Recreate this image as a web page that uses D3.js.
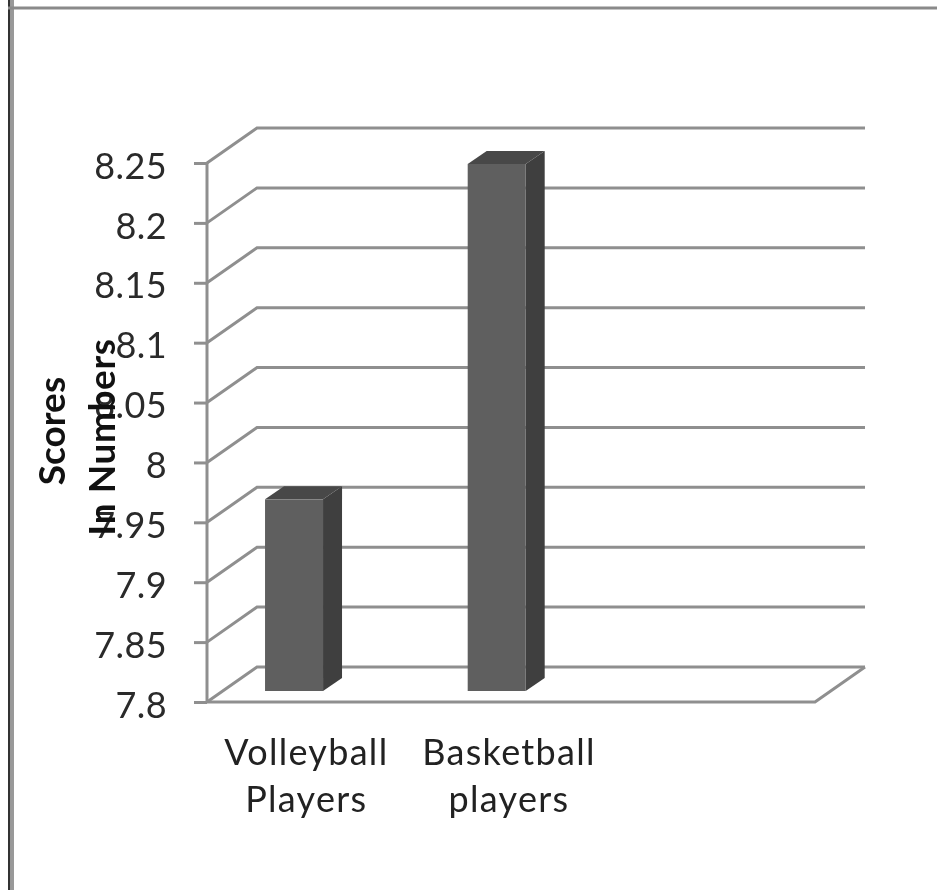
<!DOCTYPE html>
<html><head><meta charset="utf-8">
<script src="https://cdn.jsdelivr.net/npm/d3@7/dist/d3.min.js"></script>
<style>
html,body{margin:0;padding:0;background:#fff}
svg{display:block;filter:blur(0.6px)}
text{font-family:Lato,"Open Sans",sans-serif;fill:#222}
</style></head><body>
<script>
const categories = ["Volleyball Players", "Basketball players", ""];
const categoryLines = [["Volleyball", "Players"], ["Basketball", "players"], []];
const scores = [7.96, 8.24];
const tickValues = [7.8, 7.85, 7.9, 7.95, 8, 8.05, 8.1, 8.15, 8.2, 8.25];
const titleLines = ["Scores", "In Numbers"];

const W = 937, H = 890;
const grid = "#8f8f8f";
const svg = d3.select("body").append("svg").attr("width", W).attr("height", H);

// page frame
svg.append("rect").attr("x", 8).attr("y", 0).attr("width", 2.5).attr("height", H).attr("fill", "#333");
svg.append("rect").attr("x", 10.5).attr("y", 0).attr("width", 3.5).attr("height", H).attr("fill", "#999");
svg.append("rect").attr("x", 8).attr("y", 6.5).attr("width", W - 8).attr("height", 3).attr("fill", "#8a8a8a");

const y = d3.scaleLinear().domain([7.8, 8.25]).range([702, 163]);
const x = d3.scaleBand().domain(categories).range([207, 815]);
const depthX = 50, depthY = -35;

// walls: side and back gridlines
const line = d3.line();
svg.append("g").selectAll("path").data(tickValues).join("path")
  .attr("fill", "none").attr("stroke", grid).attr("stroke-width", 3)
  .attr("d", d => line([[207, y(d)], [207 + depthX, y(d) + depthY], [815 + depthX, y(d) + depthY]]));
// floor front
svg.append("path").attr("fill", "none").attr("stroke", grid).attr("stroke-width", 3)
  .attr("d", line([[207, y(7.8)], [815, y(7.8)], [815 + depthX, y(7.8) + depthY]]));

// y axis
const axis = d3.axisLeft(y).tickValues(tickValues).tickFormat(d => String(d)).tickSize(13).tickPadding(27);
const ag = svg.append("g").attr("transform", "translate(207,0)").call(axis);
ag.select(".domain").attr("stroke", grid).attr("stroke-width", 3).attr("d", line([[0, y(8.25)], [0, y(7.8)]]));
ag.selectAll(".tick line").attr("stroke", grid).attr("stroke-width", 3);
ag.selectAll(".tick text").attr("font-size", 36).attr("letter-spacing", 0.4).style("fill", "#2a2a2a").attr("dy", "0.42em");

// bars
const barW = 58, barDX = 19, barDY = -13, frontLift = 11, barShift = -14.3;
const bars = svg.append("g").selectAll("g").data(scores).join("g");
const bx = (d, i) => x(categories[i]) + x.bandwidth() / 2 - barW / 2 + barShift;
const barTop = d => y(d) - frontLift, barBot = y(7.8) - frontLift;
bars.append("path").attr("fill", "#3f3f3f")
  .attr("d", (d, i) => { const l = bx(d, i) + barW; return line([[l, barTop(d)], [l + barDX, barTop(d) + barDY], [l + barDX, barBot + barDY], [l, barBot]]) + "Z"; });
bars.append("path").attr("fill", "#484848")
  .attr("d", (d, i) => { const l = bx(d, i); return line([[l, barTop(d)], [l + barDX, barTop(d) + barDY], [l + barW + barDX, barTop(d) + barDY], [l + barW, barTop(d)]]) + "Z"; });
bars.append("rect").attr("fill", "#5f5f5f")
  .attr("x", bx).attr("y", d => barTop(d)).attr("width", barW).attr("height", d => barBot - barTop(d));

// category labels
categoryLines.forEach((ls, i) => {
  ls.forEach((t, j) => {
    svg.append("text").attr("x", x(categories[i]) + x.bandwidth() / 2 - 2)
      .attr("y", 765 + j * 47).attr("text-anchor", "middle").attr("font-size", 36)
      .attr("letter-spacing", 1.3).text(t);
  });
});

// y title
[[65, 431], [115, 437]].forEach((p, i) => {
  svg.append("text").attr("transform", `translate(${p[0]},${p[1]}) rotate(-90)`)
    .attr("text-anchor", "middle").attr("font-size", 37).attr("font-weight", 700)
    .attr("letter-spacing", i ? 0.6 : 0).style("fill", "#111").text(titleLines[i]);
});
</script>
</body></html>
